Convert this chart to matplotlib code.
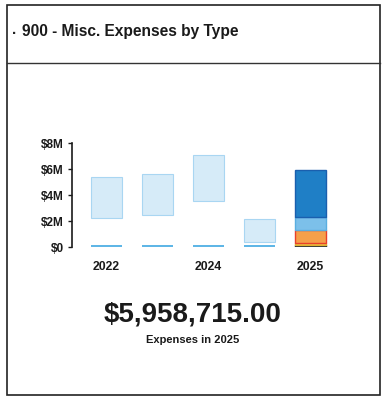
import matplotlib
matplotlib.use("Agg")
import matplotlib.pyplot as plt
from matplotlib.patches import Rectangle
from matplotlib.lines import Line2D
import numpy as np

plt.rcParams["font.family"] = ["Liberation Sans", "DejaVu Sans"]

# Expense ranges per year (USD)
years = ["2022", "2023", "2024", "2024b", "2025"]
tick_labels = ["2022", "", "2024", "", "2025"]
range_low = [2.25e6, 2.45e6, 3.55e6, 0.38e6]
range_high = [5.35e6, 5.65e6, 7.10e6, 2.15e6]
base_strip = [0.12e6, 0.12e6, 0.12e6, 0.12e6]

# 2025 expenses by type (stacked from bottom)
types_2025 = ["Other", "Travel", "Supplies", "Services", "General"]
values_2025 = [180000, 120000, 1000000, 1030000, 3628715]
colors_2025 = ["#1f2a3a", "#f2c94c", "#f5a04a", "#7cc0ea", "#1f7fc6"]
edges_2025 = ["#1f2a3a", "#e0b030", "#e8402a", "#5aaee0", "#1a5fae"]

total_2025 = sum(values_2025)
yticks = [0, 2e6, 4e6, 6e6, 8e6]
ytick_labels = ["$0", "$2M", "$4M", "$6M", "$8M"]

fig = plt.figure(figsize=(3.85, 4.0), dpi=100)

# Card frame and header divider
fig.patches.append(Rectangle((7 / 385, 5 / 400), 373 / 385, 390 / 400,
                             transform=fig.transFigure, fill=False,
                             edgecolor="#222222", linewidth=1.2))
fig.lines.append(Line2D([7 / 385, 380 / 385], [1 - 63 / 400, 1 - 63 / 400],
                        transform=fig.transFigure, color="#333333", linewidth=1.0))

fig.text(12 / 385, 1 - 34 / 400, ".", fontsize=11, fontweight="bold",
         color="#222222", va="baseline")
fig.text(22 / 385, 1 - 36 / 400, "900 - Misc. Expenses by Type", fontsize=11.2,
         fontweight="bold", color="#1a1a1a", va="baseline")

ax = fig.add_axes([72 / 385, 153 / 400, 269 / 385, 104 / 400])
x = np.arange(len(years))
w = 0.6

# Earlier years drawn faded
for i in range(len(range_low)):
    ax.bar(x[i], base_strip[i], width=w, bottom=0, color="#5fb6e6",
           edgecolor="none")
    ax.bar(x[i], range_high[i] - range_low[i], width=w, bottom=range_low[i],
           color="#d6ebf8", edgecolor="#a9d6f2", linewidth=0.8)

bottom = 0
for v, c, e in zip(values_2025, colors_2025, edges_2025):
    ax.bar(x[4], v, width=w, bottom=bottom, color=c, edgecolor=e, linewidth=1.0)
    bottom += v

ax.set_xlim(-0.67, 4.6)
ax.set_ylim(0, 8e6)
ax.set_yticks(yticks)
ax.set_yticklabels(ytick_labels, fontsize=8.5, fontweight="bold", color="#1a1a1a")
ax.set_xticks(x)
ax.set_xticklabels(tick_labels, fontsize=8.8, fontweight="bold", color="#1a1a1a")
ax.tick_params(axis="x", length=0, pad=10)
ax.tick_params(axis="y", length=3, width=1, color="#1a1a1a", pad=3)
for s in ["top", "right", "bottom"]:
    ax.spines[s].set_visible(False)
ax.spines["left"].set_color("#1a1a1a")
ax.spines["left"].set_linewidth(1.2)
ax.set_facecolor("none")

fig.text(0.5, 1 - 322 / 400, f"${total_2025:,.2f}", fontsize=20,
         fontweight="bold", color="#1a1a1a", ha="center", va="baseline")
fig.text(0.5, 1 - 343 / 400, "Expenses in 2025", fontsize=8,
         fontweight="bold", color="#1a1a1a", ha="center", va="baseline")

fig.savefig("out.png", dpi=100, facecolor="white")
